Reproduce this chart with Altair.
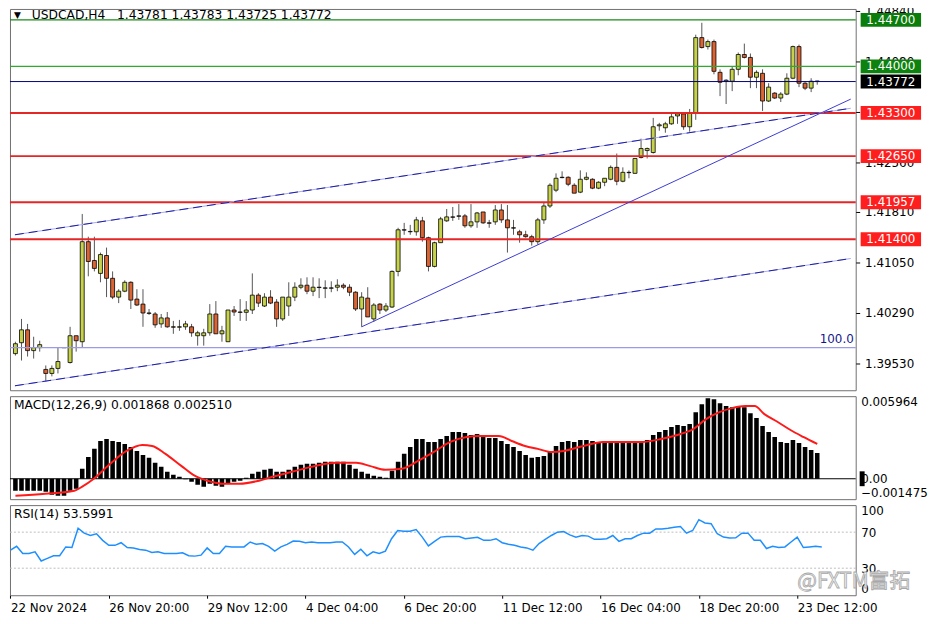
import altair as alt
import pandas as pd

FONT = "DejaVu Sans"

# ---------------- data ----------------
opens = [
    1.39679, 1.39843, 1.40037, 1.39724, 1.39769, 1.39441, 1.39381, 1.39456, 1.39769, 1.39545,
    1.39948, 1.39858, 1.41363, 1.41080, 1.40886, 1.41155, 1.40812, 1.40529, 1.40618, 1.40752,
    1.40499, 1.40424, 1.40290, 1.40275, 1.40126, 1.40216, 1.40082, 1.40077, 1.40082, 1.40082,
    1.39948, 1.39948, 1.39992, 1.40275, 1.39977, 1.39858, 1.40335, 1.40305, 1.40300, 1.40335,
    1.40559, 1.40395, 1.40529, 1.40454, 1.40201, 1.40395, 1.40529, 1.40678, 1.40708, 1.40618,
    1.40678, 1.40663, 1.40663, 1.40678, 1.40708, 1.40678, 1.40603, 1.40350, 1.40514, 1.40201,
    1.40424, 1.40335, 1.40380, 1.40916, 1.41542, 1.41512, 1.41512, 1.41676, 1.41423, 1.40991,
    1.41348, 1.41676, 1.41736, 1.41751, 1.41751, 1.41602, 1.41661, 1.41810, 1.41646, 1.41661,
    1.41840, 1.41691, 1.41572, 1.41512, 1.41467, 1.41438, 1.41363, 1.41691, 1.41900, 1.42138,
    1.42332, 1.42332, 1.42212, 1.42108, 1.42302, 1.42302, 1.42168, 1.42257, 1.42302, 1.42481,
    1.42272, 1.42406, 1.42391, 1.42630, 1.42734, 1.42704, 1.43106, 1.43077, 1.43136, 1.43255,
    1.43285, 1.43092, 1.43300, 1.44433, 1.44298, 1.44373, 1.43911, 1.43777, 1.43777, 1.43956,
    1.44179, 1.44135, 1.43837, 1.43896, 1.43479, 1.43598, 1.43524, 1.43583, 1.43822, 1.44298,
    1.43747, 1.43673, 1.43781,
]
highs = [
    1.39858, 1.40201, 1.40126, 1.39933, 1.39873, 1.39501, 1.39501, 1.39769, 1.39769, 1.40082,
    1.39948, 1.41780, 1.41438, 1.41438, 1.41199, 1.41274, 1.40916, 1.40648, 1.40782, 1.40767,
    1.40648, 1.40648, 1.40350, 1.40305, 1.40275, 1.40305, 1.40171, 1.40186, 1.40171, 1.40126,
    1.40022, 1.40052, 1.40424, 1.40469, 1.40097, 1.40335, 1.40395, 1.40499, 1.40469, 1.40886,
    1.40588, 1.40588, 1.40633, 1.40499, 1.40529, 1.40752, 1.40752, 1.40812, 1.40827, 1.40827,
    1.40812, 1.40782, 1.40767, 1.40797, 1.40737, 1.40722, 1.40618, 1.40603, 1.40678, 1.40439,
    1.40439, 1.40439, 1.40931, 1.41572, 1.41646, 1.41616, 1.41736, 1.41736, 1.41438, 1.41363,
    1.41736, 1.41855, 1.41885, 1.41929, 1.41780, 1.41929, 1.41810, 1.41810, 1.41691, 1.41914,
    1.41929, 1.41914, 1.41691, 1.41542, 1.41527, 1.41467, 1.41721, 1.41959, 1.42242, 1.42391,
    1.42421, 1.42347, 1.42242, 1.42436, 1.42406, 1.42317, 1.42272, 1.42317, 1.42510, 1.42689,
    1.42481, 1.42436, 1.42615, 1.42913, 1.42779, 1.43226, 1.43151, 1.43166, 1.43285, 1.43300,
    1.43300, 1.43360, 1.44477, 1.44656, 1.44403, 1.44403, 1.43956, 1.43807, 1.44000, 1.44209,
    1.44343, 1.44194, 1.43941, 1.43956, 1.43747, 1.43613, 1.43613, 1.43896, 1.44313, 1.44328,
    1.43777, 1.43822, 1.43783,
]
lows = [
    1.39650, 1.39575, 1.39635, 1.39605, 1.39709, 1.39262, 1.39337, 1.39381, 1.39769, 1.39530,
    1.39709, 1.39769, 1.40842, 1.40916, 1.40752, 1.40529, 1.40499, 1.40439, 1.40603, 1.40350,
    1.40395, 1.40082, 1.40261, 1.40067, 1.40067, 1.40067, 1.39977, 1.40022, 1.40037, 1.39933,
    1.39799, 1.39799, 1.39948, 1.39977, 1.39858, 1.39858, 1.40246, 1.40171, 1.40171, 1.40275,
    1.40380, 1.40380, 1.40424, 1.40082, 1.40171, 1.40246, 1.40469, 1.40648, 1.40573, 1.40544,
    1.40514, 1.40514, 1.40603, 1.40618, 1.40648, 1.40544, 1.40320, 1.40082, 1.40231, 1.40156,
    1.40275, 1.40305, 1.40365, 1.40842, 1.41467, 1.41467, 1.41453, 1.41363, 1.40916, 1.40976,
    1.41348, 1.41661, 1.41676, 1.41691, 1.41572, 1.41572, 1.41572, 1.41631, 1.41572, 1.41616,
    1.41646, 1.41199, 1.41467, 1.41348, 1.41423, 1.41304, 1.41318, 1.41631, 1.41870, 1.42108,
    1.42317, 1.42198, 1.42093, 1.42093, 1.42287, 1.42153, 1.42153, 1.42198, 1.42287, 1.42212,
    1.42257, 1.42317, 1.42391, 1.42615, 1.42615, 1.42689, 1.43032, 1.43002, 1.43121, 1.43136,
    1.43047, 1.43017, 1.43196, 1.44269, 1.44254, 1.43881, 1.43553, 1.43434, 1.43628, 1.43866,
    1.44120, 1.43673, 1.43673, 1.43330, 1.43464, 1.43509, 1.43464, 1.43568, 1.43807, 1.43688,
    1.43643, 1.43613, 1.43725,
]
closes = [
    1.39828, 1.40037, 1.39724, 1.39769, 1.39814, 1.39381, 1.39456, 1.39560, 1.39769, 1.39948,
    1.39873, 1.41363, 1.41065, 1.40961, 1.41169, 1.40812, 1.40529, 1.40618, 1.40752, 1.40484,
    1.40410, 1.40290, 1.40285, 1.40112, 1.40216, 1.40082, 1.40077, 1.40082, 1.40126, 1.39992,
    1.39992, 1.39992, 1.40275, 1.39977, 1.40022, 1.40335, 1.40305, 1.40300, 1.40335, 1.40559,
    1.40439, 1.40529, 1.40439, 1.40201, 1.40529, 1.40529, 1.40678, 1.40708, 1.40618, 1.40678,
    1.40673, 1.40668, 1.40668, 1.40708, 1.40678, 1.40603, 1.40350, 1.40529, 1.40231, 1.40410,
    1.40335, 1.40395, 1.40916, 1.41542, 1.41537, 1.41517, 1.41691, 1.41423, 1.40991, 1.41348,
    1.41706, 1.41736, 1.41731, 1.41746, 1.41602, 1.41661, 1.41795, 1.41646, 1.41641, 1.41840,
    1.41691, 1.41572, 1.41567, 1.41467, 1.41438, 1.41363, 1.41691, 1.41900, 1.42212, 1.42317,
    1.42327, 1.42227, 1.42093, 1.42302, 1.42332, 1.42168, 1.42257, 1.42317, 1.42481, 1.42272,
    1.42406, 1.42401, 1.42615, 1.42764, 1.42764, 1.43092, 1.43121, 1.43136, 1.43241, 1.43285,
    1.43092, 1.43300, 1.44433, 1.44284, 1.44373, 1.43926, 1.43762, 1.43792, 1.43956, 1.44179,
    1.44135, 1.43837, 1.43911, 1.43479, 1.43688, 1.43524, 1.43583, 1.43822, 1.44298, 1.43747,
    1.43673, 1.43777, 1.43772,
]
macd_hist = [
    -0.00086, -0.00086, -0.00086, -0.00086, -0.00086, -0.00093, -0.00115, -0.00122, -0.00122, -0.00086,
    -0.00072, 0.00072, 0.00158, 0.00216, 0.00273, 0.00287, 0.00273, 0.00266, 0.00251, 0.00230,
    0.00201, 0.00172, 0.00151, 0.00115, 0.00086, 0.00050, 0.00029, 0.00014, -0.00003, -0.00022,
    -0.00043, -0.00057, -0.00036, -0.00050, -0.00057, -0.00036, -0.00022, -0.00014, 0.00007, 0.00036,
    0.00050, 0.00065, 0.00072, 0.00050, 0.00050, 0.00065, 0.00086, 0.00101, 0.00108, 0.00108,
    0.00115, 0.00122, 0.00122, 0.00122, 0.00122, 0.00101, 0.00072, 0.00050, 0.00036, 0.00022,
    0.00014, 0.00007, 0.00057, 0.00122, 0.00180, 0.00230, 0.00287, 0.00287, 0.00266, 0.00266,
    0.00287, 0.00309, 0.00338, 0.00338, 0.00331, 0.00316, 0.00323, 0.00309, 0.00295, 0.00295,
    0.00273, 0.00251, 0.00230, 0.00201, 0.00172, 0.00151, 0.00158, 0.00165, 0.00194, 0.00237,
    0.00266, 0.00273, 0.00266, 0.00280, 0.00280, 0.00273, 0.00266, 0.00259, 0.00266, 0.00259,
    0.00266, 0.00259, 0.00259, 0.00266, 0.00280, 0.00316, 0.00338, 0.00352, 0.00374, 0.00388,
    0.00381, 0.00395, 0.00481, 0.00539, 0.00582, 0.00575, 0.00546, 0.00525, 0.00517, 0.00525,
    0.00517, 0.00474, 0.00438, 0.00381, 0.00338, 0.00302, 0.00266, 0.00259, 0.00280, 0.00259,
    0.00230, 0.00208, 0.001868,
]
signal_pos = [0, 4.9, 9.7, 11.0, 12.9, 15.6, 18.3, 20.9, 22.5, 24.7, 27.3, 29.5, 31.6, 34.3,
              36.9, 40.1, 42.3, 45.5, 48.7, 52.9, 56.1, 58.3, 60.9, 63.6, 66.3, 68.9, 71.6,
              74.3, 76.4, 79.6, 81.7, 83.9, 86.0, 88.2, 90.3, 93.5, 96.7, 99.9, 103.1, 106.3,
              109.5, 111.6, 113.7, 115.9, 118.0, 120.1, 121.7, 123.3, 125.5, 127.6, 129.7, 132]
signal_vals = [-0.00122, -0.00108, -0.00086, -0.00057, 0.0, 0.00108, 0.00201, 0.00244, 0.00237,
               0.00180, 0.00093, 0.00022, -0.00014, -0.00036, -0.00036, -0.00014, 0.00014,
               0.00050, 0.00086, 0.00115, 0.00115, 0.00093, 0.00065, 0.00072, 0.00129, 0.00194,
               0.00266, 0.00302, 0.00309, 0.00309, 0.00273, 0.00237, 0.00216, 0.00194, 0.00201,
               0.00237, 0.00266, 0.00266, 0.00266, 0.00287, 0.00323, 0.00359, 0.00431, 0.00481,
               0.00510, 0.00525, 0.00525, 0.00467, 0.00410, 0.00352, 0.00302, 0.00251]
rsi_vals = [
    50.0, 54.3, 46.3, 46.3, 48.2, 38.0, 40.9, 43.8, 43.8, 53.6,
    52.9, 74.3, 68.9, 66.3, 68.2, 60.9, 55.4, 55.4, 58.3, 52.9,
    52.5, 50.7, 50.0, 47.4, 48.2, 46.3, 46.3, 46.3, 47.1, 43.8,
    43.4, 44.5, 52.5, 46.3, 46.3, 54.3, 53.6, 53.6, 53.6, 59.1,
    56.5, 57.3, 54.3, 48.9, 53.6, 56.5, 60.2, 59.8, 58.3, 59.1,
    58.3, 58.3, 58.3, 59.1, 59.1, 53.6, 45.3, 51.1, 43.8, 48.2,
    46.3, 48.9, 62.7, 71.8, 71.1, 71.1, 72.9, 64.5, 54.7, 59.8,
    64.5, 65.2, 65.2, 65.2, 62.7, 63.4, 64.2, 60.9, 60.9, 62.7,
    58.3, 56.5, 55.4, 53.6, 52.5, 50.0, 57.3, 62.0, 66.3, 70.0,
    70.7, 67.0, 64.5, 66.3, 65.6, 62.0, 62.0, 62.7, 66.3, 59.8,
    62.7, 62.7, 66.3, 68.9, 68.9, 73.6, 73.6, 74.3, 75.4, 76.2,
    68.9, 71.8, 83.8, 80.2, 79.4, 68.2, 64.5, 63.4, 63.8, 68.9,
    68.9, 60.9, 60.9, 51.8, 54.3, 52.9, 53.6, 59.1, 64.5, 52.9,
    53.6, 54.3, 53.5991,
]
time_labels = ["22 Nov 2024", "26 Nov 20:00", "29 Nov 12:00", "4 Dec 04:00", "6 Dec 20:00",
               "11 Dec 12:00", "16 Dec 04:00", "18 Dec 20:00", "23 Dec 12:00"]
time_tick_bars = [0, 16, 32, 48, 64, 80, 96, 112, 128]
price_ticks = [1.44840, 1.44080, 1.43320, 1.42560, 1.41810, 1.41050, 1.40290, 1.39530]
level_prices = [1.44700, 1.44000, 1.43772, 1.43300, 1.42650, 1.41957, 1.41400]
level_line_colors = ["#1a8a1a", "#2eaa2e", "#00007a", "#e42626", "#e42626", "#e42626", "#e42626"]
level_box_colors = ["#0b7d0b", "#0e820e", "#000000", "#ff1e1e", "#ff1e1e", "#ff1e1e", "#ff1e1e"]
level_widths = [1.2, 1.2, 1.0, 2.0, 2.0, 2.0, 2.0]
fib_price = 1.39768
upper_x, upper_y = [-0.08, 137.52], [1.41467, 1.43370]
lower_x, lower_y = [-0.08, 137.52], [1.39195, 1.41110]
trend_x, trend_y = [57, 137.52], [1.40082, 1.43508]
NB = "\u00a0"
title_main = "USDCAD,H4" + NB * 3 + "1.43781 1.43783 1.43725 1.43772"
title_macd = "MACD(12,26,9) 0.001868 0.002510"
title_rsi = "RSI(14) 53.5991"
macd_ticks = [-0.001475, 0.0, 0.005964]
rsi_ticks = [0, 30, 70, 100]

# ---------------- layout ----------------
W = 854
H_MAIN, H_MACD, H_RSI = 385, 104, 91
XDOM = [-0.08, 137.52]
PRICE_DOM = [1.39128, 1.44864]
MACD_DOM = [-0.001475, 0.005964]
BULL, BEAR = "#c6d24a", "#dc6433"

xs = alt.Scale(domain=XDOM, nice=False, zero=False)
ys = alt.Scale(domain=PRICE_DOM, nice=False, zero=False)

main_axis = alt.Axis(orient="right", values=price_ticks, format=".5f", title=None,
                     tickSize=4, tickColor="black", labelPadding=5, domain=False, grid=False,
                     labelFlush=False, labelOverlap=False)

n = len(opens)
candles = pd.DataFrame({"bar": list(range(n)), "open": opens, "high": highs,
                        "low": lows, "close": closes})
candles["dir"] = ["up" if c >= o else "down" for o, c in zip(opens, closes)]

levels = pd.DataFrame({"price": level_prices, "line": level_line_colors,
                       "box": level_box_colors, "w": level_widths,
                       "label": [f"{p:.5f}" for p in level_prices]})

X = alt.X("bar:Q", scale=xs, axis=None)

wicks = alt.Chart(candles).mark_rule(color="#555555", strokeWidth=1, clip=True).encode(
    x=X, y=alt.Y("low:Q", scale=ys, axis=main_axis), y2="high:Q")
bodies = alt.Chart(candles).mark_bar(size=4, stroke="black", strokeWidth=0.8, clip=True).encode(
    x=X, y=alt.Y("open:Q", scale=ys, axis=main_axis), y2="close:Q",
    fill=alt.Fill("dir:N", scale=alt.Scale(domain=["up", "down"], range=[BULL, BEAR]), legend=None))

level_rules = alt.Chart(levels).mark_rule().encode(
    y=alt.Y("price:Q", scale=ys, axis=main_axis),
    color=alt.Color("line:N", scale=None),
    strokeWidth=alt.StrokeWidth("w:Q", scale=None))

fib_df = pd.DataFrame({"price": [fib_price], "t": ["100.0"]})
fib_rule = alt.Chart(fib_df).mark_rule(color="#9a9ae6", strokeWidth=1.3).encode(
    y=alt.Y("price:Q", scale=ys, axis=main_axis))
fib_text = alt.Chart(fib_df).mark_text(align="right", baseline="bottom", dy=-2, fontSize=12,
                                       font=FONT, color="#14148c").encode(
    x=alt.value(852), y=alt.Y("price:Q", scale=ys, axis=main_axis), text="t:N")


def seg(xv, yv):
    return pd.DataFrame({"x": xv, "y": yv})


def line_layer(df, **kw):
    return alt.Chart(df).mark_line(clip=True, **kw).encode(
        x=alt.X("x:Q", scale=xs, axis=None), y=alt.Y("y:Q", scale=ys, axis=main_axis))


up_df, lo_df, tr_df = seg(upper_x, upper_y), seg(lower_x, lower_y), seg(trend_x, trend_y)
trend_layers = [
    line_layer(up_df, color="#a8a8f0", strokeWidth=1),
    line_layer(up_df, color="#1a1aa0", strokeWidth=1, strokeDash=[9, 5]),
    line_layer(lo_df, color="#a8a8f0", strokeWidth=1),
    line_layer(lo_df, color="#1a1aa0", strokeWidth=1, strokeDash=[9, 5]),
    line_layer(tr_df, color="#3c3cd0", strokeWidth=1),
]

boxes = alt.Chart(levels).mark_tick(size=61, thickness=14, opacity=1).encode(
    y=alt.Y("price:Q", scale=ys, axis=main_axis), x=alt.value(889.5),
    color=alt.Color("box:N", scale=None))
box_text = alt.Chart(levels).mark_text(color="white", fontSize=12, font=FONT,
                                       align="center", baseline="middle").encode(
    y=alt.Y("price:Q", scale=ys, axis=main_axis), x=alt.value(889.5), text="label:N")

tdf = pd.DataFrame({"t": [title_main], "tri": ["\u25bc"]})
tri = alt.Chart(tdf).mark_text(fontSize=9, font=FONT, color="black", align="center",
                               baseline="middle").encode(x=alt.value(7.5), y=alt.value(6), text="tri:N")
ttl = alt.Chart(tdf).mark_text(fontSize=12.4, font=FONT, color="black", align="left",
                               baseline="middle").encode(x=alt.value(22), y=alt.value(6), text="t:N")

main = alt.layer(wicks, bodies, level_rules, fib_rule, *trend_layers, fib_text,
                 boxes, box_text, tri, ttl).properties(width=W, height=H_MAIN)

# ---------------- MACD ----------------
ms = alt.Scale(domain=MACD_DOM, nice=False, zero=False)
macd_axis = alt.Axis(orient="right", values=macd_ticks, title=None, tickSize=0, labelPadding=5,
                     domain=False, grid=False, labelFlush=True, labelOverlap=False,
                     labelExpr="datum.value == 0 ? '0.00' : format(datum.value, '.6f')")
mdf = pd.DataFrame({"bar": list(range(n)), "hist": macd_hist})
sdf = pd.DataFrame({"x": signal_pos, "v": signal_vals})
zdf = pd.DataFrame({"z": [0.0]})
hist = alt.Chart(mdf).mark_bar(size=4.6, color="black", clip=True).encode(
    x=X, y=alt.Y("hist:Q", scale=ms, axis=macd_axis), y2=alt.datum(0))
zero = alt.Chart(zdf).mark_rule(color="black", strokeWidth=1).encode(
    y=alt.Y("z:Q", scale=ms, axis=macd_axis))
sig = alt.Chart(sdf).mark_line(color="#ff1a1a", strokeWidth=2, interpolate="monotone", clip=True).encode(
    x=alt.X("x:Q", scale=xs, axis=None), y=alt.Y("v:Q", scale=ms, axis=macd_axis))
zbox = alt.Chart(zdf).mark_tick(size=5, thickness=15, opacity=1, color="black").encode(
    x=alt.value(860.5), y=alt.Y("z:Q", scale=ms, axis=macd_axis))
mt = alt.Chart(pd.DataFrame({"t": [title_macd]})).mark_text(
    fontSize=12.4, font=FONT, color="black", align="left", baseline="middle").encode(
    x=alt.value(4), y=alt.value(9), text="t:N")
macd = alt.layer(hist, zero, sig, zbox, mt).properties(width=W, height=H_MACD)

# ---------------- RSI ----------------
rs = alt.Scale(domain=[0, 100], nice=False, zero=False)
xaxis = alt.Axis(values=time_tick_bars, title=None, tickSize=3, tickColor="black", labelPadding=4,
                 labelAlign="left", labelBaseline="top", labelFlush=False, labelOverlap=False,
                 domain=False, grid=False,
                 labelExpr="[" + ",".join(f"'{s}'" for s in time_labels) + "][round(datum.value / 16)]")
rsi_axis = alt.Axis(orient="right", values=rsi_ticks, title=None, tickSize=0, labelPadding=5,
                    domain=False, grid=False, labelFlush=True, labelOverlap=False, format="d")
rdf = pd.DataFrame({"bar": list(range(n)), "rsi": rsi_vals})
gdf = pd.DataFrame({"lvl": [30, 70]})
rgrid = alt.Chart(gdf).mark_rule(color="#bdbdbd", strokeWidth=1, strokeDash=[2, 2]).encode(
    y=alt.Y("lvl:Q", scale=rs, axis=rsi_axis))
rline = alt.Chart(rdf).mark_line(color="#1e8fff", strokeWidth=1.5, clip=True).encode(
    x=alt.X("bar:Q", scale=xs, axis=xaxis), y=alt.Y("rsi:Q", scale=rs, axis=rsi_axis))
rt = alt.Chart(pd.DataFrame({"t": [title_rsi]})).mark_text(
    fontSize=12.4, font=FONT, color="black", align="left", baseline="middle").encode(
    x=alt.value(4), y=alt.value(9), text="t:N")
wm = alt.Chart(pd.DataFrame({"t": ["@FXTM富拓"]})).mark_text(
    fontSize=21, font="Noto Sans CJK SC", fill="#f2f2f2", stroke="#a8a8a8", strokeWidth=0.8,
    align="left", baseline="middle").encode(x=alt.value(795), y=alt.value(78), text="t:N")
rsi = alt.layer(rgrid, rline, rt, wm).properties(width=W, height=H_RSI)

chart = alt.vconcat(main, macd, rsi, spacing=3).properties(
    padding={"left": 0, "top": -7, "right": 0, "bottom": 0}, background="white"
).configure_view(stroke="#6f6f6f", strokeWidth=1).configure_axis(
    labelFont=FONT, labelFontSize=12, labelColor="black")

chart.save("out.html", embed_options={"renderer": "svg", "actions": False})
